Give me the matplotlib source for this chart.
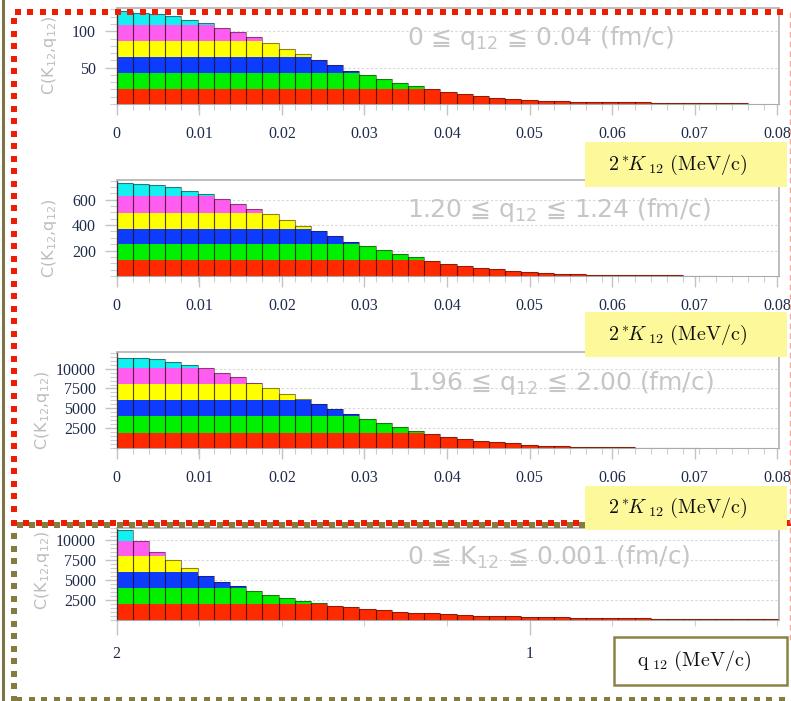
import numpy as np
import matplotlib.pyplot as plt
from matplotlib.lines import Line2D
from matplotlib.patches import Rectangle
from matplotlib.ticker import FixedLocator, MultipleLocator

# ---- data ----
# bar heights per bin, bins step away from the left end of each axis
heights_q004 = [127.4, 125, 124, 121, 116, 111, 105, 99, 92, 84, 75.5, 68.6, 60, 54,
                46, 40, 34, 28.5, 25, 20.8, 16.2, 13.9, 11.1, 8.8, 6.9, 5.6, 4.6, 4.2,
                3.2, 2.8, 2.5, 2.3, 2.1, 1.9, 1.7, 1.5, 1.4, 1.2, 1.0]
heights_q124 = [733, 725, 715, 697, 670, 644, 604, 570, 528, 486, 441, 397, 352, 312,
                270, 233, 201, 170, 147, 121, 95, 76, 63, 53, 42, 32, 24, 18, 13, 10.5,
                9, 8, 6.5, 5.5, 4.5, 3.5, 2.5]
heights_q200 = [11390, 11300, 11180, 10840, 10500, 10030, 9480, 8890, 8210, 7530, 6860,
                6180, 5550, 4910, 4230, 3680, 3130, 2680, 2100, 1750, 1420, 1130, 920,
                700, 570, 420, 300, 220, 160, 120, 100, 80, 60, 45, 35, 25]
heights_k001 = [11250, 9875, 8458, 7458, 6458, 5542, 4792, 4250, 3625, 3125, 2750, 2417,
                2083, 1792, 1583, 1375, 1208, 1042, 917, 833, 750, 625, 542, 500, 458,
                417, 375, 333, 292, 260, 240, 220, 200, 180, 160, 150, 140, 130, 120,
                110, 100]

# colour band limits (red | green | blue | yellow | magenta | cyan)
bands_q004 = [20, 43, 64, 87, 109]
bands_q124 = [122, 254, 373, 499, 628]
bands_q200 = [1950, 4060, 6010, 8090, 10120]
bands_k001 = [1960, 4040, 5960, 8000, 9900]

titles = [r"0 ≦ q$_{12}$ ≦ 0.04 (fm/c)",
          r"1.20 ≦ q$_{12}$ ≦ 1.24 (fm/c)",
          r"1.96 ≦ q$_{12}$ ≦ 2.00 (fm/c)",
          r"0 ≦ K$_{12}$ ≦ 0.001 (fm/c)"]
k_ticks = [0, 0.01, 0.02, 0.03, 0.04, 0.05, 0.06, 0.07, 0.08]
k_ticklabels = ["0", "0.01", "0.02", "0.03", "0.04", "0.05", "0.06", "0.07", "0.08"]
q_ticks = [2, 1]
q_ticklabels = ["2", "1"]

band_colors = ["#ff2a00", "#00f000", "#0d3cff", "#ffff00", "#ff5cf0", "#12f0f0"]

W, H = 791, 701
fig = plt.figure(figsize=(W / 100, H / 100), dpi=100)
tick_font = "Liberation Serif"
tick_color = "#1e2b4a"


def px_axes(x0, y0, x1, y1):
    return fig.add_axes([x0 / W, 1 - y1 / H, (x1 - x0) / W, (y1 - y0) / H])


def draw_bars(ax, heights, bands, start, bw, sign):
    h = np.array(heights, dtype=float)
    idx = np.arange(len(h))
    left = start + idx * bw if sign > 0 else start - (idx + 1) * bw
    levels = [0] + list(bands) + [np.inf]
    for j, col in enumerate(band_colors):
        lo, hi = levels[j], levels[j + 1]
        seg = np.clip(h, lo, hi) - lo
        ax.bar(left, seg, bw, bottom=lo, align="edge", color=col, linewidth=0, zorder=2)
    ax.bar(left, h, bw, align="edge", fill=False, edgecolor=(0.15, 0.05, 0.05, 0.5),
           linewidth=0.8, zorder=3)


def style_axes(ax, ymax, ymajor, yminor):
    ax.set_ylim(0, ymax)
    for s in ["top", "right"]:
        ax.spines[s].set_color("#b8b8b8")
        ax.spines[s].set_linewidth(1.3)
    ax.spines["left"].set_color("#555555")
    ax.spines["left"].set_linewidth(1.0)
    ax.spines["bottom"].set_color("#aaaaaa")
    ax.yaxis.set_major_locator(FixedLocator(ymajor))
    ax.yaxis.set_minor_locator(MultipleLocator(yminor))
    ax.tick_params(axis="y", which="major", length=9, width=1, color="#c4c4c4", pad=6,
                   labelsize=11.5, labelcolor=tick_color)
    ax.tick_params(axis="y", which="minor", length=5, width=0.8, color="#cfcfcf")
    ax.tick_params(axis="x", which="major", length=8, width=1, color="#c4c4c4", pad=8,
                   labelsize=11.5, labelcolor=tick_color)
    ax.tick_params(axis="x", which="minor", length=4, width=0.8, color="#cfcfcf")
    for lab in ax.get_xticklabels() + ax.get_yticklabels():
        lab.set_family(tick_font)
    ax.yaxis.grid(True, which="major", linestyle=(0, (2, 2)), color="#d6d6d6", linewidth=0.8)
    ax.set_axisbelow(True)


panels = [
    (8, 104, heights_q004, bands_q004, 132, [50, 100], 10, 50),
    (180, 276, heights_q124, bands_q124, 755, [200, 400, 600], 50, 50),
    (352, 448, heights_q200, bands_q200, 12100, [2500, 5000, 7500, 10000], 500, 42),
]
title_y = [38, 210, 383]
ylabel_y = [55, 238, 410]

bw_k = 0.00196
for n, (top, bot, hts, bnds, ymax, ymaj, ymin, ylx) in enumerate(panels):
    ax = px_axes(116.7, top, 779, bot)
    draw_bars(ax, hts, bnds, 0.0, bw_k, 1)
    ax.set_xlim(0, 0.0802)
    ax.set_xticks(k_ticks)
    ax.set_xticklabels(k_ticklabels)
    ax.xaxis.set_minor_locator(FixedLocator(np.arange(41) * bw_k))
    style_axes(ax, ymax, ymaj, ymin)
    fig.text(407 / W, 1 - title_y[n] / H, titles[n], fontsize=18, color="#c6c6c6",
             ha="left", va="center", zorder=6)
    fig.text(ylx / W, 1 - ylabel_y[n] / H, r"C(K$_{12}$,q$_{12}$)", rotation=90,
             fontsize=11.5, color="#bdbdbd", ha="center", va="center")

# bottom panel: q12 axis running from 2 downwards
bw_q = 0.0392
ax = px_axes(116.7, 528, 779, 620)
draw_bars(ax, heights_k001, bands_k001, 2.0, bw_q, -1)
ax.set_xlim(2.0, 0.396)
ax.set_xticks(q_ticks)
ax.set_xticklabels(q_ticklabels)
ax.xaxis.set_minor_locator(FixedLocator(np.arange(0.4, 2.0, 0.2)))
style_axes(ax, 11500, [2500, 5000, 7500, 10000], 500)
ax.tick_params(axis="x", which="major", length=11, pad=8)
fig.text(407 / W, 1 - 557 / H, titles[3], fontsize=18, color="#c6c6c6",
         ha="left", va="center", zorder=6)
fig.text(42 / W, 1 - 570 / H, r"C(K$_{12}$,q$_{12}$)", rotation=90,
         fontsize=11.5, color="#bdbdbd", ha="center", va="center")


# ---- slide decorations (pixel coordinates) ----
def dots(xs, ys, color):
    fig.add_artist(Line2D(np.asarray(xs) / W, 1 - np.asarray(ys) / H,
                          transform=fig.transFigure, marker="s", linestyle="none",
                          markersize=3.9, markeredgewidth=0, color=color, zorder=20))


red = "#ee1c00"
olive = "#857a40"
xs_top = np.arange(17.5, 790, 12.5)
dots(xs_top, np.full(len(xs_top), 12.3), red)
ys_left = np.arange(21, 520, 12.5)
dots(np.full(len(ys_left), 13.5), ys_left, red)
xs_mid = np.arange(13.5, 790, 12.5)
dots(xs_mid, np.full(len(xs_mid), 522.5), red)
dots(xs_mid + 6.2, np.full(len(xs_mid), 524.5), olive)
ys_left2 = np.arange(536, 700, 12.5)
dots(np.full(len(ys_left2), 14), ys_left2, olive)
xs_bot = np.arange(19, 790, 12.5)
dots(xs_bot, np.full(len(xs_bot), 699.5), olive)

fig.add_artist(Line2D([2.9 / W, 2.9 / W], [0, 1], transform=fig.transFigure,
                      color="#7d7445", linewidth=2.2, zorder=20))
fig.add_artist(Line2D([789.5 / W, 789.5 / W], [1 - 12 / H, 1 - 640 / H],
                      transform=fig.transFigure, color="#f2aaa0", linewidth=1,
                      linestyle=(0, (4, 3)), zorder=20))

k_label = r"$2\,{}^{*}\!K_{\ 12}\ (\mathrm{MeV/c})$"
for y0, y1 in [(142, 187), (312, 357), (486, 530)]:
    fig.add_artist(Rectangle((585 / W, 1 - y1 / H), 202 / W, (y1 - y0) / H,
                             transform=fig.transFigure, facecolor="#fdf89a",
                             edgecolor="none", zorder=25))
    fig.text(677 / W, 1 - (y0 + y1) / 2 / H, k_label, math_fontfamily="cm",
             fontsize=14.5, ha="center", va="center", color="#111111", zorder=26)

fig.add_artist(Rectangle((613.5 / W, 1 - 684.5 / H), 173 / W, 48 / H,
                         transform=fig.transFigure, facecolor="white",
                         edgecolor="#8a8346", linewidth=1.8, zorder=25))
fig.text(694 / W, 1 - 661 / H, r"$\mathrm{q}_{\ 12}\ (\mathrm{MeV/c})$",
         math_fontfamily="cm", fontsize=14.5, ha="center", va="center",
         color="#111111", zorder=26)

fig.savefig("out.png", dpi=100)
